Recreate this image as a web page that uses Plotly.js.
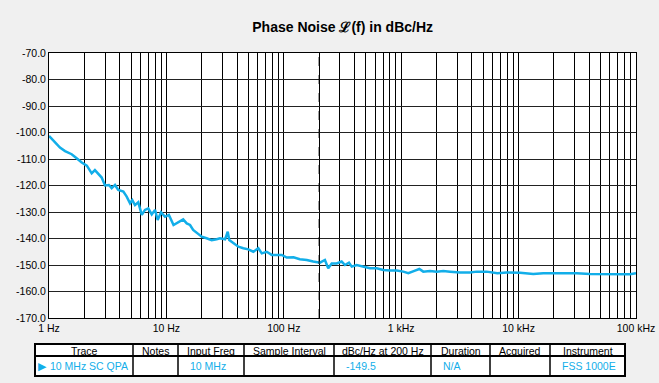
<!DOCTYPE html>
<html>
<head>
<meta charset="utf-8">
<script src="https://cdn.plot.ly/plotly-3.0.1.min.js"></script>
<style>html,body{margin:0;padding:0;background:#f0f0f0;}#chart{width:659px;height:383px;}</style>
</head>
<body>
<div id="chart"></div>
<script>
// Offset frequency (Hz) and phase noise (dBc/Hz)
const freqHz = [1, 1.125, 1.24, 1.37, 1.56, 1.72, 1.90, 2.10, 2.31, 2.46, 2.63, 2.81, 3.0, 3.24, 3.42, 3.65, 3.89, 4.30, 4.59, 4.90, 5.12, 5.40, 5.76, 6.17, 6.57, 7.01, 7.50, 8.0, 8.43, 9.0, 9.73, 10.5, 11.5, 12.2, 13.1, 13.9, 14.9, 15.9, 16.9, 18.1, 20.0, 22.0, 24.3, 26.8, 28.6, 31.6, 33.3, 34.3, 37.2, 41.0, 45.2, 49.9, 55.0, 60.7, 64.9, 71.5, 78.9, 87.1, 96, 106, 121, 137, 157, 178, 203, 224, 239, 256, 282, 311, 332, 359, 379, 418, 476, 542, 618, 704, 803, 916, 1042, 1150, 1312, 1426, 1542, 1758, 2005, 2284, 2604, 3170, 3855, 4395, 5346, 6590, 7925, 10280, 13340, 16220, 19770, 25700, 31260, 40560, 52700, 68400, 88900, 100000];
const noiseDb = [-101.3, -103.5, -105.7, -107.0, -108.2, -109.7, -111.3, -112.5, -115.4, -114.2, -115.8, -117.0, -120.0, -119.8, -121.0, -119.8, -121.7, -122.3, -124.2, -126.7, -125.5, -127.4, -126.3, -131.1, -129.2, -128.6, -130.9, -129.2, -133.0, -130.1, -131.8, -131.1, -134.9, -134.3, -133.6, -132.8, -134.3, -134.9, -136.8, -137.8, -139.3, -139.9, -140.6, -140.3, -139.9, -140.3, -137.4, -140.6, -141.8, -143.1, -143.7, -144.1, -145.0, -143.7, -145.6, -145.0, -146.2, -146.2, -146.2, -147.2, -147.1, -147.8, -148.1, -148.7, -149.1, -148.1, -151.2, -149.4, -149.4, -148.7, -150.0, -149.1, -150.6, -150.0, -150.6, -151.2, -151.2, -151.9, -152.1, -152.1, -152.5, -153.1, -152.1, -151.5, -152.5, -152.3, -152.5, -152.3, -152.5, -152.8, -152.8, -152.5, -152.5, -153.1, -152.8, -152.9, -153.4, -153.1, -153.1, -153.1, -153.1, -153.4, -153.5, -153.5, -153.5, -153.1];

const markerFreq = 200;

const decadeVals = [1, 10, 100, 1000, 10000, 100000];
const decadeLabels = ["1 Hz", "10 Hz", "100 Hz", "1 kHz", "10 kHz", "100 kHz"];
const yTickVals = [-70, -80, -90, -100, -110, -120, -130, -140, -150, -160, -170];
const yTickLabels = ["-70.0", "-80.0", "-90.0", "-100.0", "-110.0", "-120.0", "-130.0", "-140.0", "-150.0", "-160.0", "-170.0"];

// Legend / info table
const tableHeaders = ["Trace", "Notes", "Input Freq", "Sample Interval", "dBc/Hz at 200 Hz", "Duration", "Acquired", "Instrument"];
const tableRow = ["10 MHz SC QPA", "", "10 MHz", "", "-149.5", "N/A", "", "FSS 1000E"];
const tableColWidths = [98, 45, 66, 90, 97, 59, 60, 75];

// ---- geometry (pixels) ----
const W = 659, H = 383;
const M = {l: 35, r: 23, t: 53, b: 7};
const PW = W - M.l - M.r, PH = H - M.t - M.b;
const px2x = px => (px - M.l) / PW;
const px2y = py => (H - M.b - py) / PH;
const plotLeft = 49, plotBottom = 318;
const tblLeft = 35, tblTop = 344, tblMid = 356, tblBottom = 376;

// grid ticks at 1..9 of each decade
const xGridVals = [];
const xGridText = [];
decadeVals.forEach((d, i) => {
  if (i === decadeVals.length - 1) { xGridVals.push(d); xGridText.push(decadeLabels[i]); return; }
  for (let m = 1; m <= 9; m++) {
    xGridVals.push(d * m);
    xGridText.push(m === 1 ? decadeLabels[i] : "");
  }
});

const blue = "#12aee9";
const font = "Liberation Sans, Arial, sans-serif";

// table shapes + text
const shapes = [
  {type: "line", xref: "x", yref: "y domain", x0: markerFreq, x1: markerFreq, y0: 0, y1: 1,
   line: {color: "#000000", width: 1, dash: "dash"}}
];
const annotations = [];
let colX = tblLeft;
const tblRight = tblLeft + tableColWidths.reduce((a, b) => a + b, 0);
shapes.push({type: "rect", xref: "paper", yref: "paper",
  x0: px2x(tblLeft), x1: px2x(tblRight), y0: px2y(tblBottom), y1: px2y(tblTop),
  fillcolor: "#ffffff", line: {color: "#000000", width: 2}, layer: "below"});
shapes.push({type: "line", xref: "paper", yref: "paper",
  x0: px2x(tblLeft), x1: px2x(tblRight), y0: px2y(tblMid), y1: px2y(tblMid),
  line: {color: "#000000", width: 2}});
tableColWidths.forEach((w, i) => {
  if (i > 0) {
    shapes.push({type: "line", xref: "paper", yref: "paper",
      x0: px2x(colX), x1: px2x(colX), y0: px2y(tblBottom), y1: px2y(tblTop),
      line: {color: "#000000", width: 1.5}});
  }
  annotations.push({xref: "paper", yref: "paper", x: px2x(colX + w / 2), y: px2y((tblTop + tblMid) / 2 + 0.5),
    text: tableHeaders[i], showarrow: false, xanchor: "center", yanchor: "middle",
    font: {family: font, size: 10.5, color: "#000000"}});
  if (tableRow[i]) {
    const pad = i === 0 ? 13 : 10;
    annotations.push({xref: "paper", yref: "paper", x: px2x(colX + pad), y: px2y((tblMid + tblBottom) / 2),
      text: tableRow[i], showarrow: false, xanchor: "left", yanchor: "middle",
      font: {family: font, size: 10.5, color: blue}});
  }
  colX += w;
});
// trace marker triangle
annotations.push({xref: "paper", yref: "paper", x: px2x(tblLeft + 0.5), y: px2y((tblMid + tblBottom) / 2),
  text: "\u25B6", showarrow: false, xanchor: "left", yanchor: "middle",
  font: {family: "DejaVu Sans, sans-serif", size: 11, color: blue}});

const traces = [
  {
    type: "scatter", mode: "lines",
    x: freqHz, y: noiseDb,
    line: {color: blue, width: 2.5},
    hoverinfo: "skip"
  }
];

const layout = {
  width: W, height: H,
  paper_bgcolor: "#f0f0f0",
  plot_bgcolor: "#ffffff",
  margin: M,
  showlegend: false,
  title: {
    text: "Phase Noise \u2112(f) in dBc/Hz",
    x: 0.52, xref: "container", xanchor: "center",
    y: 1 - 27 / H, yref: "container", yanchor: "middle",
    font: {family: font, size: 14, color: "#000000", weight: "bold"}
  },
  xaxis: {
    type: "log",
    domain: [px2x(plotLeft), 1],
    range: [0, 5],
    tickvals: xGridVals, ticktext: xGridText,
    showgrid: true, gridcolor: "#000000", gridwidth: 1,
    showline: true, mirror: true, linecolor: "#000000", linewidth: 1,
    ticks: "", zeroline: false,
    tickfont: {family: font, size: 10.5, color: "#000000"}
  },
  yaxis: {
    range: [-170, -70],
    domain: [px2y(plotBottom), 1],
    tickvals: yTickVals, ticktext: yTickLabels,
    showgrid: true, gridcolor: "#222222", gridwidth: 1,
    showline: true, mirror: true, linecolor: "#000000", linewidth: 1,
    ticks: "", zeroline: false,
    tickfont: {family: font, size: 10.5, color: "#000000"}
  },
  shapes: shapes,
  annotations: annotations
};

Plotly.newPlot("chart", traces, layout, {displayModeBar: false, staticPlot: true});
</script>
</body>
</html>
